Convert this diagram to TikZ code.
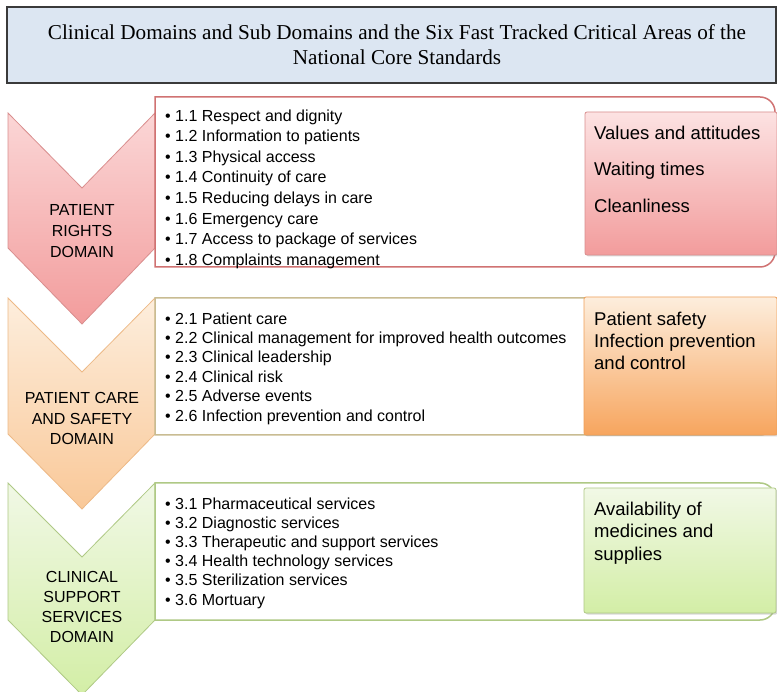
\documentclass[tikz,border=0pt]{standalone}
\usepackage{fontspec}
\setmainfont{Liberation Serif}
\setsansfont{Liberation Sans}
\usepackage{tikz}
\usetikzlibrary{shadows}

\definecolor{nentieude}{HTML}{DCE6F2}
\definecolor{vientieude}{HTML}{3A3A3A}
\definecolor{do1}{HTML}{FBD6D6}
\definecolor{do2}{HTML}{F29C9C}
\definecolor{dovien}{HTML}{D07272}
\definecolor{cam1}{HTML}{FDEEDD}
\definecolor{cam2}{HTML}{F9C898}
\definecolor{cam3}{HTML}{F7A55E}
\definecolor{camvien}{HTML}{C9BC92}
\definecolor{xanh1}{HTML}{F1F8E6}
\definecolor{xanh2}{HTML}{D3EEA6}
\definecolor{xanhvien}{HTML}{AFC985}

\tikzset{
  muc/.style={anchor=north west, inner sep=0pt, align=left},
  nhan/.style={align=center, inner sep=0pt},
  diem/.style={anchor=north west, inner sep=0pt, align=left},
  hop/.style={rounded corners=2pt, drop shadow={opacity=0.3, shadow xshift=1.5pt, shadow yshift=-1.5pt}}
}

\begin{document}
\begin{tikzpicture}[x=1pt,y=-1pt]
\path[fill=white, use as bounding box] (0,0) rectangle (777,692);

% Tiêu đề
\draw[draw=vientieude, line width=1.2pt, fill=nentieude] (7,7) rectangle (776,83);
\node[inner sep=0pt, align=center, font=\fontsize{21.2}{25}\selectfont] (title) at (397,45)
  {Clinical Domains and Sub Domains and the Six Fast Tracked Critical Areas of the\\National Core Standards};

% Mũi tên
\draw[draw=dovien!80, top color=do1, bottom color=do2, line width=0.8pt]
  (8,113) -- (82,188) -- (155,113) -- (155,248) -- (82,324) -- (8,248) -- cycle;
\draw[draw=cam2!80!brown, top color=cam1, bottom color=cam2, line width=0.8pt]
  (8,298) -- (82,372) -- (155,298) -- (155,434) -- (82,509) -- (8,434) -- cycle;
\draw[draw=xanhvien, top color=xanh1, bottom color=xanh2, line width=0.8pt]
  (8,483) -- (82,557) -- (155,483) -- (155,620) -- (82,695) -- (8,620) -- cycle;

\node[nhan, font=\sffamily\fontsize{16}{21}\selectfont] (r) at (82,231) {PATIENT\\RIGHTS\\DOMAIN};
\node[nhan, font=\sffamily\fontsize{16}{20.5}\selectfont] (o) at (82,418.5) {PATIENT CARE\\AND SAFETY\\DOMAIN};
\node[nhan, font=\sffamily\fontsize{16}{20}\selectfont] (g) at (82,607) {CLINICAL\\SUPPORT\\SERVICES\\DOMAIN};

% Khung
\draw[dovien, line width=1.5pt, fill=white] (155,267) -- (155,97) -- (600,97) [rounded corners=15pt]
  -- (775,97) -- (775,267) -- (600,267) [sharp corners] -- cycle;
\draw[camvien, line width=1.5pt, fill=white] (155,435) -- (155,298) -- (600,298) [rounded corners=15pt]
  -- (775,298) -- (775,435) -- (600,435) [sharp corners] -- cycle;
\draw[xanhvien, line width=1.5pt, fill=white] (155,620) -- (155,483) -- (600,483) [rounded corners=15pt]
  -- (775,483) -- (775,620) -- (600,620) [sharp corners] -- cycle;

\node[muc, font=\sffamily\fontsize{16}{20.6}\selectfont] (lr) at (165,109.3) {%
  \textbullet\ 1.1 Respect and dignity\\
  \textbullet\ 1.2 Information to patients\\
  \textbullet\ 1.3 Physical access\\
  \textbullet\ 1.4 Continuity of care\\
  \textbullet\ 1.5 Reducing delays in care\\
  \textbullet\ 1.6 Emergency care\\
  \textbullet\ 1.7 Access to package of services\\
  \textbullet\ 1.8 Complaints management};
\node[muc, font=\sffamily\fontsize{16}{19.4}\selectfont] (lo) at (165,312.3) {%
  \textbullet\ 2.1 Patient care\\
  \textbullet\ 2.2 Clinical management for improved health outcomes\\
  \textbullet\ 2.3 Clinical leadership\\
  \textbullet\ 2.4 Clinical risk\\
  \textbullet\ 2.5 Adverse events\\
  \textbullet\ 2.6 Infection prevention and control};
\node[muc, font=\sffamily\fontsize{16}{19.2}\selectfont] (lg) at (165,497.3) {%
  \textbullet\ 3.1 Pharmaceutical services\\
  \textbullet\ 3.2 Diagnostic services\\
  \textbullet\ 3.3 Therapeutic and support services\\
  \textbullet\ 3.4 Health technology services\\
  \textbullet\ 3.5 Sterilization services\\
  \textbullet\ 3.6 Mortuary};

% Sáu lĩnh vực trọng điểm
\draw[hop, draw=dovien!80, top color=do1!70!white, bottom color=do2, line width=0.8pt] (585,112) rectangle (777,255);
\draw[hop, draw=cam3!85!brown, top color=cam1, bottom color=cam3, line width=0.8pt] (584,297) rectangle (777,435);
\draw[hop, draw=xanhvien, top color=xanh1, bottom color=xanh2, line width=0.8pt] (584,488) rectangle (776,613);

\node[diem, font=\sffamily\fontsize{18.5}{36.5}\selectfont] (kr) at (594,125.5) {Values and attitudes\\Waiting times\\Cleanliness};
\node[diem, font=\sffamily\fontsize{18.5}{22}\selectfont] (ko) at (594,311.5) {Patient safety\\Infection prevention\\and control};
\node[diem, font=\sffamily\fontsize{18.5}{22.5}\selectfont] (kg) at (594,501.5) {Availability of\\medicines and\\supplies};
\end{tikzpicture}
\end{document}
